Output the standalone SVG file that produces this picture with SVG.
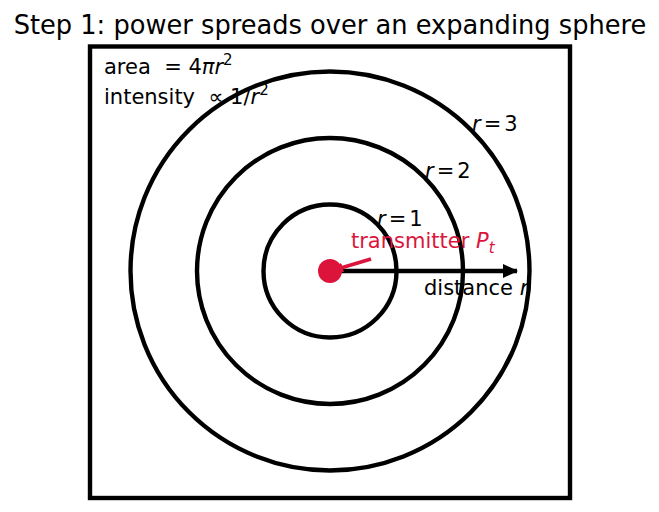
<svg xmlns="http://www.w3.org/2000/svg" width="659" height="512" viewBox="0 0 659 512">
<style>
text{font-family:"DejaVu Sans",sans-serif;fill:#000}
.lbl{font-size:21px}
.it{font-style:italic}
.ring{fill:none;stroke:#000;stroke-width:4.4}
</style>
<defs>
<marker id="ahk" markerWidth="15" markerHeight="14" refX="14" refY="7" orient="auto" markerUnits="userSpaceOnUse"><path d="M0,0 L15,7 L0,14 Z" fill="#000"/></marker>
<marker id="ahr" markerWidth="10" markerHeight="10" refX="9" refY="5" orient="auto" markerUnits="userSpaceOnUse"><path d="M0,0 L10,5 L0,10 Z" fill="#DC143C"/></marker>
</defs>
<rect width="659" height="512" fill="#fff"/>
<text x="330" y="34" font-size="25.7" text-anchor="middle">Step 1: power spreads over an expanding sphere</text>
<rect id="frame" x="90" y="46.5" width="480" height="451.5" fill="none" stroke="#000" stroke-width="4.4"/>
<g id="rings">
<circle id="r1" class="ring" cx="330" cy="271" r="66.5"/>
<circle id="r2" class="ring" cx="330" cy="271" r="133"/>
<circle id="r3" class="ring" cx="330" cy="271" r="199.5"/>
</g>
<g id="connectors">
<line x1="333" y1="271" x2="517" y2="271" stroke="#000" stroke-width="4.4" marker-end="url(#ahk)"/>
<line x1="371" y1="259" x2="334" y2="270" stroke="#DC143C" stroke-width="3.8" marker-end="url(#ahr)"/>
</g>
<g id="transmitter">
<circle cx="330" cy="271" r="12" fill="#DC143C"/>
<text class="lbl" x="351" y="248" style="fill:#DC143C">transmitter <tspan class="it" style="fill:#DC143C">P</tspan><tspan class="it" font-size="15" dy="5" style="fill:#DC143C">t</tspan></text>
</g>
<g id="labels">
<text class="lbl" x="104" y="74" xml:space="preserve">area  = 4<tspan class="it">πr</tspan><tspan font-size="15" dy="-9">2</tspan></text>
<text class="lbl" x="104" y="104" xml:space="preserve">intensity  ∝ 1/<tspan class="it">r</tspan><tspan font-size="15" dy="-9">2</tspan></text>
<text class="lbl" x="377" y="226"><tspan class="it">r</tspan><tspan dx="3">=</tspan><tspan dx="3">1</tspan></text>
<text class="lbl" x="425" y="178"><tspan class="it">r</tspan><tspan dx="3">=</tspan><tspan dx="3">2</tspan></text>
<text class="lbl" x="472" y="131"><tspan class="it">r</tspan><tspan dx="3">=</tspan><tspan dx="3">3</tspan></text>
<text class="lbl" x="424" y="295">distance <tspan class="it">r</tspan></text>
</g>
</svg>
